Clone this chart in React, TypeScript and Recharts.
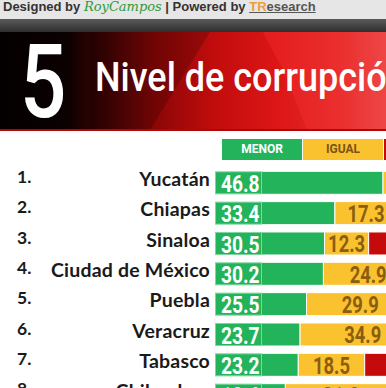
import React from "react";
import { BarChart, Bar, XAxis, YAxis, LabelList } from "recharts";

const states = ["Yucatán", "Chiapas", "Sinaloa", "Ciudad de México", "Puebla", "Veracruz", "Tabasco", "Chihuahua"];
const menor = [46.8, 33.4, 30.5, 30.2, 25.5, 23.7, 23.2, 19.6];
const igual = [30.1, 17.3, 12.3, 24.9, 29.9, 34.9, 18.5, 31.0];
const mayor = [18.0, 45.0, 52.0, 40.0, 38.0, 36.0, 52.0, 44.0];
const legendItems = ["MENOR", "IGUAL", "MAYOR"];

const GREEN = "#22b35b";
const YELLOW = "#fbc230";
const RED = "#c40a0a";

const data = states.map((name, i) => ({ name, menor: menor[i], igual: igual[i], mayor: mayor[i] }));

const numFont = "Roboto, 'Liberation Sans', sans-serif";

function StateTick(props: any) {
  const { y, payload, index } = props;
  return (
    <g>
      <text x={17} y={y - 6} fontFamily="Lato, sans-serif" fontWeight={700} fontSize={17.5} fill="#1a1a1a" dominantBaseline="central">
        {index + 1}.
      </text>
      <text x={210} y={y - 4} textAnchor="end" fontFamily="Lato, sans-serif" fontWeight={700} fontSize={19.5} letterSpacing={0.2} fill="#1a1a1a" dominantBaseline="central">
        {payload.value}
      </text>
    </g>
  );
}

const greenLabel = (props: any) => {
  const { x, y, height, value } = props;
  return (
    <g>
      <rect x={x + 0.5} y={y + 0.5} width={46} height={height - 1} fill="none" stroke="#7ed6a0" strokeWidth={1} />
      <text transform={`translate(${x + 6},${y + height / 2 + 1}) scale(0.8,1)`} fontFamily={numFont} fontWeight={700} fontSize={24} fill="#ffffff" dominantBaseline="central">
        {value.toFixed(1)}
      </text>
    </g>
  );
};

const midLabel = (color: string) => (props: any) => {
  const { x, y, width, height, value } = props;
  return (
    <text transform={`translate(${x + width / 2},${y + height / 2 + 1}) scale(0.8,1)`} textAnchor="middle" fontFamily={numFont} fontWeight={700} fontSize={23} fill={color} dominantBaseline="central">
      {value.toFixed(1)}
    </text>
  );
};

export default function App() {
  return (
    <div style={{ position: "absolute", left: 0, top: 0, width: 386, height: 388, overflow: "hidden", background: "#ffffff", fontFamily: "Arial, 'Liberation Sans', sans-serif" }}>
      <div style={{ position: "absolute", left: 0, top: 0, width: 386, height: 19, background: "#e6e6e6" }} />
      <div style={{ position: "absolute", left: 3, top: 0, fontSize: 13, lineHeight: "14px", fontWeight: 700, color: "#333", whiteSpace: "nowrap" }}>
        Designed by{" "}
        <span style={{ fontFamily: "'DejaVu Serif', serif", fontStyle: "italic", fontWeight: 400, color: "#2f9a3a" }}>RoyCampos</span>{" "}
        | Powered by{" "}
        <span style={{ textDecoration: "underline", color: "#555" }}>
          <span style={{ color: "#e8a040" }}>TR</span>esearch
        </span>
      </div>
      <div style={{ position: "absolute", left: 0, top: 19, width: 386, height: 13, background: "linear-gradient(180deg, #5a5a5a, #2e2e2e)" }} />
      <div
        style={{
          position: "absolute",
          left: 0,
          top: 32,
          width: 386,
          height: 98,
          background: "linear-gradient(90deg, #050000 0%, #0a0101 17%, #3e0303 27%, #8a0606 40%, #c00c0c 55%, #dd1616 72%, #e42a2a 88%, #e84a4a 100%)",
        }}
      />
      <div style={{ position: "absolute", left: 210, top: 32, width: 176, height: 98, background: "rgba(255,60,60,0.25)", clipPath: "polygon(30% 0, 100% 0, 100% 100%, 55% 100%, 42% 40%)" }} />
      <div style={{ position: "absolute", left: 90, top: 32, width: 200, height: 98, background: "rgba(0,0,0,0.18)", clipPath: "polygon(0 0, 60% 0, 30% 100%, 0 100%)" }} />
      <div style={{ position: "absolute", left: 0, top: 129, width: 386, height: 2, background: "#b00808" }} />
      <div style={{ position: "absolute", left: 20, top: 22, fontFamily: "Roboto, sans-serif", fontWeight: 500, fontSize: 102, color: "#ffffff", transform: "scaleX(0.8)", transformOrigin: "left" }}>5</div>
      <div style={{ position: "absolute", left: 95, top: 54, fontFamily: "Roboto, sans-serif", fontWeight: 500, fontSize: 40, color: "#ffffff", whiteSpace: "nowrap", transform: "scaleX(0.9)", transformOrigin: "left" }}>
        Nivel de corrupción
      </div>
      {legendItems.map((t, i) => (
        <div
          key={t}
          style={{
            position: "absolute",
            left: 222 + i * 81,
            top: 139,
            width: 80,
            height: 21,
            background: [GREEN, YELLOW, RED][i],
            color: ["#ffffff", "#7a5410", "#ffffff"][i],
            fontFamily: numFont,
            fontWeight: 700,
            fontSize: 12,
            textAlign: "center",
            lineHeight: "21px",
          }}
        >
          {t}
        </div>
      ))}
      <div style={{ position: "absolute", left: 0, top: 130 }}>
        <BarChart width={580} height={280} data={data} layout="vertical" margin={{ top: 37.3, right: 6, bottom: 0, left: 0 }} barSize={23}>
          <XAxis type="number" domain={[0, 100]} hide allowDataOverflow />
          <YAxis type="category" dataKey="name" width={215} axisLine={false} tickLine={false} tick={<StateTick />} interval={0} />
          <Bar dataKey="menor" stackId="a" fill={GREEN} stroke="#ffffff" strokeWidth={1} isAnimationActive={false}>
            <LabelList dataKey="menor" content={greenLabel} />
          </Bar>
          <Bar dataKey="igual" stackId="a" fill={YELLOW} stroke="#ffffff" strokeWidth={1} isAnimationActive={false}>
            <LabelList dataKey="igual" content={midLabel("#8a5e0e")} />
          </Bar>
          <Bar dataKey="mayor" stackId="a" fill={RED} stroke="#ffffff" strokeWidth={1} isAnimationActive={false}>
            <LabelList dataKey="mayor" content={midLabel("#ffffff")} />
          </Bar>
        </BarChart>
      </div>
    </div>
  );
}
